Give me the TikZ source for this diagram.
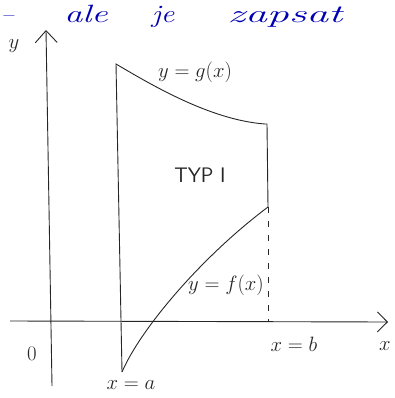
\documentclass[tikz,border=0pt]{standalone}
\usetikzlibrary{arrows.meta}
\begin{document}
\begin{tikzpicture}[x=1pt,y=-1pt,
  ink/.style={line width=0.9pt,black!85},
  lbl/.style={inner sep=0pt,font=\fontsize{22}{24}\selectfont,text=black!85},
  blueink/.style={inner sep=0pt,anchor=base,transform shape,text=blue!70!black,font=\fontsize{25}{27}\selectfont\itshape}]
\useasboundingbox (0,0) rectangle (394,398);
% top blue text
\node[blueink,anchor=base west] (tdash) at (1,23) {--};
\node[blueink,xscale=1.45] (tale) at (86,23) {ale};
\node[blueink,xscale=1.2] (tje) at (163,23) {je};
\node[blueink,xscale=1.75] (tzap) at (285,23) {zapsat};
% axes
\coordinate (xs) at (10,321);
\coordinate (xe) at (388,322);
\coordinate (ys) at (52,386);
\coordinate (ye) at (46,30);
\draw[ink,-{Straight Barb[length=10pt,width=20pt,line width=0.9pt]}] (xs) -- (xe);
\draw[ink,-{Straight Barb[length=12pt,width=22pt,line width=0.9pt]}] (ys) -- (ye);
% region
\coordinate (A1) at (116,64);
\coordinate (A0) at (122,372);
\coordinate (B1) at (265,124);
\coordinate (B2) at (267,124);
\coordinate (B0) at (268,207);
\coordinate (Bx) at (268,321);
\draw[ink] (A0) -- (A1) .. controls (150,84) and (210,120) .. (B1) -- (B2) -- (B0);
\draw[ink] (A0) .. controls (140,330) and (200,258) .. (B0);
\draw[ink,dashed,dash pattern=on 6pt off 8pt] (B0) -- (Bx);
% labels
\node[lbl] (ly) at (14,46) {$y$};
\node[lbl] (lx) at (385,346) {$x$};
\node[lbl] (l0) at (32,354) {$0$};
\node[lbl] (lg) at (195,72) {$y=g(x)$};
\node[lbl,font=\fontsize{21}{24}\selectfont\sffamily] (typ) at (200,175) {TYP I};
\node[lbl] (lf) at (226,285) {$y=f(x)$};
\node[lbl] (lb) at (294,344) {$x=b$};
\node[lbl] (la) at (131,385) {$x=a$};
\end{tikzpicture}
\end{document}
